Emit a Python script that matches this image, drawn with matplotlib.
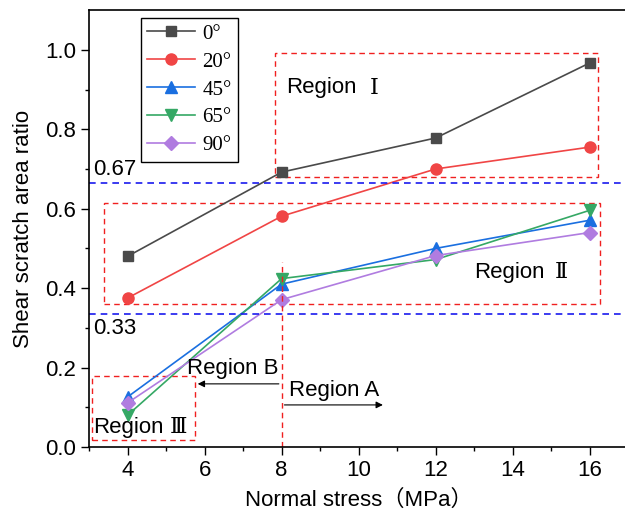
import matplotlib.pyplot as plt
from matplotlib.patches import Rectangle

plt.rcParams['font.family'] = ['Liberation Sans', 'Noto Sans CJK SC', 'DejaVu Sans']

# data
stress = [4, 8, 12, 16]
angles = ["0°", "20°", "45°", "65°", "90°"]
ratio_0 = [0.48, 0.692, 0.778, 0.967]
ratio_20 = [0.375, 0.581, 0.70, 0.755]
ratio_45 = [0.126, 0.41, 0.50, 0.571]
ratio_65 = [0.08, 0.424, 0.472, 0.596]
ratio_90 = [0.111, 0.371, 0.482, 0.54]
series = [ratio_0, ratio_20, ratio_45, ratio_65, ratio_90]

colors = ["#4a4a4a", "#f04545", "#1a6fe0", "#35a865", "#b07ce0"]
markers = ["s", "o", "^", "v", "D"]
msizes = [7, 8, 8, 8, 7]

FS = 16
NUM = ["DejaVu Serif", "Noto Sans CJK SC"]

fig = plt.figure(figsize=(6.25, 5.18), dpi=100)
ax = fig.add_axes([0.1424, 0.137, 0.863, 0.8436])

for vals, lab, c, m, ms in zip(series, angles, colors, markers, msizes):
    ax.plot(stress, vals, color=c, marker=m, markersize=ms, linewidth=1.2, label=lab)

# threshold lines
ax.axhline(0.665, color="#1a1aee", linestyle=(0, (4, 3)), linewidth=1.2)
ax.axhline(0.335, color="#1a1aee", linestyle=(0, (4, 3)), linewidth=1.2)
ax.text(3.1, 0.672, "0.67", fontsize=FS, va="bottom")
ax.text(3.1, 0.325, "0.33", fontsize=FS, va="top")

# region boxes
red = "#f02020"
for (x0, y0, x1, y1) in [(7.82, 0.679, 16.2, 0.992),
                         (3.38, 0.359, 16.26, 0.614),
                         (3.09, 0.018, 5.74, 0.179)]:
    ax.add_patch(Rectangle((x0, y0), x1 - x0, y1 - y0, fill=False,
                           edgecolor=red, linestyle=(0, (4, 3)), linewidth=1.0))
ax.plot([8, 8], [0, 0.467], color=red, linestyle=(0, (4, 3)), linewidth=1.0)

ax.text(8.12, 0.905, "Region", fontsize=FS, va="center")
ax.text(10.4, 0.905, "Ⅰ", fontsize=FS, va="center", ha="center", family=NUM)
ax.text(13.0, 0.44, "Region", fontsize=FS, va="center")
ax.text(15.27, 0.44, "Ⅱ", fontsize=FS, va="center", ha="center", family=NUM)
ax.text(3.1, 0.05, "Region", fontsize=FS, va="center")
ax.text(5.32, 0.05, "Ⅲ", fontsize=FS, va="center", ha="center", family=NUM)
ax.text(6.72, 0.197, "Region B", fontsize=FS, ha="center", va="center")
ax.text(8.2, 0.143, "Region A", fontsize=FS, va="center")

ax.annotate("", xy=(5.75, 0.159), xytext=(8, 0.159),
            arrowprops=dict(arrowstyle="-|>", color="black", lw=0.8))
ax.annotate("", xy=(10.7, 0.106), xytext=(8, 0.106),
            arrowprops=dict(arrowstyle="-|>", color="black", lw=0.8))

ax.set_xlim(3, 17)
ax.set_ylim(0, 1.1)
ax.set_xticks([4, 6, 8, 10, 12, 14, 16])
ax.set_xticks(range(3, 17), minor=True)
ax.set_yticks([0.0, 0.2, 0.4, 0.6, 0.8, 1.0])
ax.set_yticks([0.1, 0.3, 0.5, 0.7, 0.9], minor=True)
ax.yaxis.set_major_formatter(plt.FormatStrFormatter("%.1f"))
ax.tick_params(which="both", direction="out", labelsize=FS, width=1.0)
ax.tick_params(which="major", length=6)
ax.tick_params(which="minor", length=3)
for s in ax.spines.values():
    s.set_linewidth(1.2)

ax.set_xlabel("Normal stress（MPa）", fontsize=FS, labelpad=6)
ax.set_ylabel("Shear scratch area ratio", fontsize=FS, labelpad=8)

leg = ax.legend(loc="upper left", bbox_to_anchor=(0.0965, 0.982), fancybox=False,
                edgecolor="black", framealpha=1, handlelength=2.3, borderaxespad=0,
                prop={"family": "Liberation Serif", "size": 15},
                borderpad=0.3, labelspacing=0.4, handletextpad=0.35)
leg.get_frame().set_linewidth(1.0)

fig.savefig("out.png", dpi=100)
